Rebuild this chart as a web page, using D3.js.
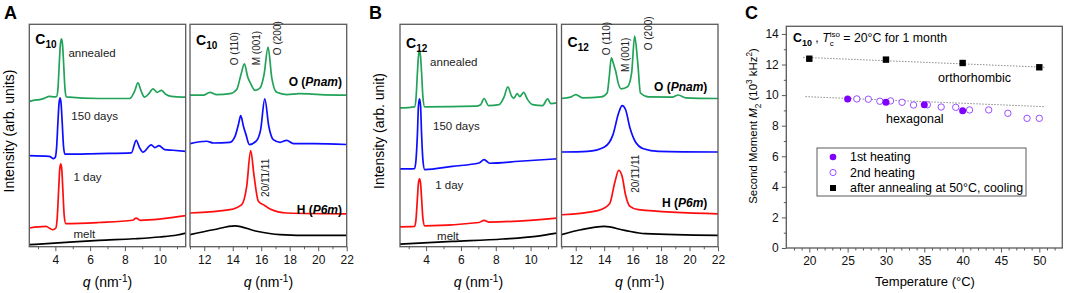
<!DOCTYPE html>
<html>
<script src="https://d3js.org/d3.v7.min.js"></script>

<head>
    <style>
        body {
            margin: 0;
            background: #fff;
            font-family: "Liberation Sans", Arial, Helvetica, sans-serif;
        }

        svg {
            display: block;
        }
    </style>
</head>

<body></body>
<script>
    const width = 1065,
        height = 293;
    const svg = d3.select("body").append("svg").attr("width", width).attr("height", height);

    // SAXS/WAXS patterns: [q (nm^-1), intensity (arb. units, stacked)]
    const c10LowMelt = [[2.5, 0.09], [4.6, 0.2], [6.5, 0.29], [8.5, 0.36], [10, 0.44], [11, 0.53], [11.5, 0.62]];
    const c10LowDay1 = [[2.5, 0.85], [3.45, 0.92], [3.85, 0.77], [4.03, 0.85], [4.11, 1.35], [4.19, 2.6], [4.25, 3.5], [4.31, 3.76], [4.37, 3.5], [4.43, 2.6], [4.51, 1.4], [4.6, 1.05], [6.5, 1.1], [8.45, 1.2], [8.65, 1.3], [8.88, 1.2], [11.5, 1.41]];
    const c10Low150 = [[2.5, 4.14], [3.65, 4.1], [3.9, 4.0], [3.99, 4.05], [4.07, 4.5], [4.15, 5.7], [4.21, 6.5], [4.27, 6.76], [4.33, 6.5], [4.39, 5.7], [4.47, 4.55], [4.55, 4.2], [6.5, 4.23], [8.37, 4.26], [8.65, 4.83], [8.85, 4.49], [9.04, 4.29], [9.52, 4.62], [9.73, 4.5], [9.96, 4.59], [10.29, 4.41], [10.77, 4.38], [11.5, 4.33]];
    const c10LowAnnealed = [[2.5, 6.6], [2.8, 6.66], [3.1, 6.68], [3.4, 6.75], [3.65, 6.83], [3.95, 6.8], [4.07, 6.82], [4.15, 7.2], [4.23, 8.4], [4.29, 9.2], [4.35, 9.44], [4.41, 9.2], [4.47, 8.4], [4.55, 7.2], [4.63, 6.8], [6.5, 6.73], [8.27, 6.73], [8.56, 7.06], [8.75, 7.44], [8.94, 7.06], [9.13, 6.79], [9.38, 6.95], [9.62, 7.17], [9.85, 7.01], [10.1, 7.1], [10.35, 6.92], [10.67, 6.83], [11.5, 6.79]];

    const c10HighMelt = [[11, 0.55], [12.64, 0.77], [14.16, 0.95], [15.68, 0.7], [17.32, 0.55], [19.67, 0.51], [22, 0.51]];
    const c10HighDay1 = [[11, 1.53], [13.8, 1.68], [14.63, 1.91], [14.98, 2.74], [15.26, 4.36], [15.5, 3.2], [15.8, 2.06], [16.27, 1.86], [16.62, 1.71], [17.8, 1.53], [22, 1.49]];
    const c10High150 = [[11, 4.68], [12.17, 4.79], [12.64, 4.71], [13.8, 4.74], [14.16, 5.01], [14.4, 5.55], [14.56, 5.95], [14.75, 5.47], [14.93, 5.09], [15.17, 4.64], [15.64, 4.79], [15.96, 5.32], [16.25, 6.71], [16.53, 5.47], [16.85, 4.86], [17.32, 4.74], [17.79, 4.83], [18.26, 4.68], [19.67, 4.68], [22, 4.64]];
    const c10HighAnnealed = [[11, 6.88], [11.94, 6.88], [12.4, 7.01], [12.87, 6.91], [13.81, 6.95], [14.28, 7.14], [14.58, 7.82], [14.82, 8.3], [15.05, 7.71], [15.26, 7.41], [15.57, 7.1], [15.92, 7.21], [16.2, 7.82], [16.48, 9.06], [16.74, 7.67], [17.09, 7.01], [17.79, 6.91], [18.68, 6.95], [20.13, 6.91], [22, 6.88]];

    const c12LowMelt = [[2.5, 0.12], [5.5, 0.24], [8.4, 0.35], [10.3, 0.47], [11.5, 0.62]];
    const c12LowDay1 = [[2.5, 0.9], [3.34, 0.92], [3.42, 1.25], [3.5, 2.2], [3.56, 2.9], [3.62, 3.08], [3.68, 2.9], [3.74, 2.2], [3.82, 1.25], [3.92, 0.95], [7.04, 1.1], [7.33, 1.2], [7.62, 1.12], [11.5, 1.3]];
    const c12Low150 = [[2.5, 3.53], [3.34, 3.55], [3.42, 3.95], [3.5, 5.1], [3.56, 6.4], [3.62, 6.71], [3.68, 6.4], [3.74, 5.1], [3.82, 3.9], [3.92, 3.5], [5.5, 3.65], [7.04, 3.8], [7.33, 3.95], [7.65, 3.79], [9.35, 3.88], [11.5, 3.99]];
    const c12LowAnnealed = [[2.5, 6.3], [3.34, 6.35], [3.42, 6.75], [3.5, 7.9], [3.56, 8.65], [3.62, 8.91], [3.68, 8.65], [3.74, 7.9], [3.82, 6.75], [3.92, 6.35], [6.85, 6.38], [7.13, 6.45], [7.33, 6.73], [7.58, 6.41], [8.19, 6.45], [8.48, 6.8], [8.69, 7.26], [8.92, 6.82], [9.04, 6.74], [9.23, 6.95], [9.38, 6.82], [9.6, 7.01], [9.83, 6.68], [10.12, 6.45], [10.69, 6.41], [10.98, 6.71], [11.17, 6.5], [11.5, 6.53]];

    const c12HighMelt = [[11, 0.55], [12.36, 0.77], [14.02, 0.92], [15.45, 0.74], [16.88, 0.59], [22, 0.51]];
    const c12HighDay1 = [[11, 1.45], [13.55, 1.64], [14.38, 1.95], [14.74, 2.9], [15.02, 3.47], [15.26, 3.2], [15.5, 2.36], [15.81, 1.83], [16.4, 1.68], [22, 1.49]];
    const c12High150 = [[11, 4.3], [12.83, 4.33], [14.02, 4.53], [14.62, 5.09], [15.02, 6.08], [15.26, 6.41], [15.5, 6.23], [15.81, 5.4], [16.17, 4.79], [16.76, 4.45], [17.83, 4.33], [22, 4.3]];
    const c12HighAnnealed = [[11, 6.73], [11.64, 6.79], [12, 6.91], [12.48, 6.76], [13.79, 6.8], [14.21, 6.98], [14.36, 7.74], [14.5, 8.58], [14.67, 8.27], [14.81, 7.97], [14.98, 7.44], [15.21, 7.17], [15.64, 7.26], [15.93, 7.89], [16.14, 9.56], [16.36, 8.35], [16.55, 6.98], [17.12, 6.8], [18.79, 6.79], [19.21, 6.89], [19.74, 6.76], [22, 6.73]];

    // NMR second moment, panel C
    const tempAnnealed = [20, 30, 40, 50];
    const m2Annealed = [12.38, 12.32, 12.1, 11.82];
    const tempFirst = [25, 30, 35, 40];
    const m2First = [9.75, 9.53, 9.37, 8.98];
    const tempSecond = [26.2, 27.7, 29.2, 30.6, 32.1, 33.6, 35.4, 37.2, 39.1, 40.9, 43.4, 45.9, 48.4, 50];
    const m2Second = [9.75, 9.73, 9.6, 9.62, 9.53, 9.35, 9.37, 9.22, 9.2, 9.03, 9.03, 8.81, 8.48, 8.48];
    const fitOrtho = [[19.2, 12.47], [50.8, 11.82]];
    const fitHex = [[19.5, 9.9], [50.8, 9.24]];

    const sampleColor = {
        melt: "#000000",
        day1: "#ff0d0d",
        days150: "#0d0dff",
        annealed: "#22a35a"
    };
    const purple = "#7f00ff";
    const frameColor = "#5a5a5a";
    const plotTop = 24.3, plotBottom = 246.7;

    function richText(sel, parts) {
        let shift = 0;
        parts.forEach(p => {
            const s = sel.append("tspan").text(p.t);
            const want = p.sub ? 3.5 : p.sup ? -5 : 0;
            if (want !== shift) {
                s.attr("dy", want - shift);
                shift = want;
            }
            if (p.sub || p.sup) s.attr("font-size", p.size || "0.72em");
            if (p.i) s.attr("font-style", "italic");
            if (p.b) s.attr("font-weight", "bold");
            if (p.dx) s.attr("dx", p.dx);
        });
        return sel;
    }

    function qTitle(x) {
        const t = svg.append("text")
            .attr("x", x).attr("y", 287)
            .attr("text-anchor", "middle")
            .attr("font-size", 14);
        richText(t, [{ t: "q", i: true }, { t: " (nm" }, { t: "-1", sup: true }, { t: ")" }]);
    }

    function drawSpectrum(p) {
        const x = d3.scaleLinear().domain(p.domain).range([p.x0, p.x1]);
        const y = d3.scaleLinear().domain([0, 10.1]).range([plotBottom, plotTop]);
        const g = svg.append("g");

        g.append("clipPath").attr("id", "clip" + p.id)
            .append("rect")
            .attr("x", p.x0).attr("y", plotTop)
            .attr("width", p.x1 - p.x0).attr("height", plotBottom - plotTop);

        const line = d3.line()
            .x(d => x(d[0]))
            .y(d => y(d[1]))
            .curve(d3.curveMonotoneX);

        g.selectAll("path.curve")
            .data(p.curves)
            .enter()
            .append("path")
            .attr("class", "curve")
            .attr("d", d => line(d.data))
            .attr("fill", "none")
            .attr("stroke", d => d.color)
            .attr("stroke-width", 1.7)
            .attr("stroke-linejoin", "round")
            .attr("clip-path", `url(#clip${p.id})`);

        // minor + major ticks
        const major = d3.range(Math.ceil(p.domain[0] / 2) * 2, p.domain[1] + 0.01, 2);
        const minor = d3.range(Math.ceil(p.domain[0]), p.domain[1] + 0.01, 1).filter(v => v % 2 !== 0);
        const minorAxis = g.append("g")
            .attr("transform", `translate(0,${plotBottom})`)
            .call(d3.axisBottom(x).tickValues(minor).tickSize(2.5).tickFormat(""));
        const majorAxis = g.append("g")
            .attr("transform", `translate(0,${plotBottom})`)
            .call(d3.axisBottom(x).tickValues(major).tickSize(4.5).tickPadding(4).tickFormat(d3.format("d")));
        [minorAxis, majorAxis].forEach(a => {
            a.select(".domain").remove();
            a.selectAll("line").attr("stroke", frameColor);
            a.selectAll("text").attr("font-size", 12).attr("fill", "#111")
                .attr("font-family", "Liberation Sans, Arial, sans-serif");
        });

        g.append("rect")
            .attr("x", p.x0).attr("y", plotTop)
            .attr("width", p.x1 - p.x0).attr("height", plotBottom - plotTop)
            .attr("fill", "none")
            .attr("stroke", frameColor)
            .attr("stroke-width", 1.3);

        // compound label
        const lab = g.append("text")
            .attr("x", p.x0 + 6).attr("y", p.labelY)
            .attr("font-size", 14).attr("font-weight", "bold");
        richText(lab, [{ t: "C" }, { t: p.compound, sub: true, size: 10 }]);

        (p.sampleLabels || []).forEach(s => {
            g.append("text")
                .attr("x", x(s.q)).attr("y", y(s.v))
                .attr("font-size", 11.5)
                .attr("fill", "#222")
                .text(s.t);
        });

        (p.peakLabels || []).forEach(s => {
            g.append("text")
                .attr("transform", `translate(${x(s.q)},${y(s.v)}) rotate(-90)`)
                .attr("font-size", 10)
                .attr("fill", "#222")
                .text(s.t);
        });

        (p.phaseLabels || []).forEach(s => {
            const t = g.append("text")
                .attr("x", x(s.q)).attr("y", y(s.v))
                .attr("text-anchor", "end")
                .attr("font-size", 12).attr("font-weight", "bold");
            richText(t, [{ t: s.a + " (" }, { t: s.b, i: true }, { t: ")" }]);
        });

        qTitle((p.x0 + p.x1) / 2);
    }

    const sampleRows = (melt, day1, d150, ann) => [
        { color: sampleColor.melt, data: melt },
        { color: sampleColor.day1, data: day1 },
        { color: sampleColor.days150, data: d150 },
        { color: sampleColor.annealed, data: ann }
    ];

    const hkl = "20/1\u03041/11";

    drawSpectrum({
        id: "a1", x0: 29.3, x1: 185.7, domain: [2.5, 11.5], compound: "10", labelY: 44,
        curves: sampleRows(c10LowMelt, c10LowDay1, c10Low150, c10LowAnnealed),
        sampleLabels: [
            { t: "annealed", q: 4.75, v: 8.6 },
            { t: "150 days", q: 4.92, v: 5.75 },
            { t: "1 day", q: 5.04, v: 2.99 },
            { t: "melt", q: 5.04, v: 0.41 }
        ]
    });
    drawSpectrum({
        id: "a2", x0: 190, x1: 346.7, domain: [11, 22], compound: "10", labelY: 45,
        curves: sampleRows(c10HighMelt, c10HighDay1, c10High150, c10HighAnnealed),
        peakLabels: [
            { t: "O (110)", q: 14.4, v: 8.24 },
            { t: "M (001)", q: 15.88, v: 8.24 },
            { t: "O (200)", q: 17.42, v: 8.7 },
            { t: hkl, q: 16.58, v: 2.26 }
        ],
        phaseLabels: [
            { a: "O", b: "Pnam", q: 21.67, v: 7.29 },
            { a: "H", b: "P6m", q: 21.67, v: 1.49 }
        ]
    });
    drawSpectrum({
        id: "b1", x0: 400, x1: 556.7, domain: [2.5, 11.5], compound: "12", labelY: 48,
        curves: sampleRows(c12LowMelt, c12LowDay1, c12Low150, c12LowAnnealed),
        sampleLabels: [
            { t: "annealed", q: 4.23, v: 8.2 },
            { t: "150 days", q: 4.4, v: 5.3 },
            { t: "1 day", q: 4.52, v: 2.63 },
            { t: "melt", q: 4.63, v: 0.32 }
        ]
    });
    drawSpectrum({
        id: "b2", x0: 561.5, x1: 718, domain: [11, 22], compound: "12", labelY: 47,
        curves: sampleRows(c12HighMelt, c12HighDay1, c12High150, c12HighAnnealed),
        peakLabels: [
            { t: "O (110)", q: 14.44, v: 8.7 },
            { t: "M (001)", q: 15.75, v: 7.93 },
            { t: "O (200)", q: 17.38, v: 8.92 },
            { t: hkl, q: 16.46, v: 2.45 }
        ],
        phaseLabels: [
            { a: "O", b: "Pnam", q: 21.25, v: 7.07 },
            { a: "H", b: "P6m", q: 21.25, v: 1.81 }
        ]
    });

    // y titles of A and B
    [{ x: 14, t: "Intensity (arb. units)" }, { x: 384, t: "Intensity (arb. unit)" }].forEach(d => {
        svg.append("text")
            .attr("transform", `translate(${d.x},131) rotate(-90)`)
            .attr("text-anchor", "middle")
            .attr("font-size", 14)
            .text(d.t);
    });

    // panel letters
    [{ x: 4, t: "A" }, { x: 369, t: "B" }, { x: 745, t: "C" }].forEach(d => {
        svg.append("text")
            .attr("x", d.x).attr("y", 19)
            .attr("font-size", 18).attr("font-weight", "bold")
            .text(d.t);
    });

    // ---- panel C ----
    const xC = d3.scaleLinear().domain([17, 53]).range([786.3, 1062.3]);
    const yC = d3.scaleLinear().domain([0, 14.5]).range([248, 26.3]);
    const gC = svg.append("g");

    const xMinorC = d3.range(18, 53, 1).filter(v => v % 5 !== 0);
    const yMinorC = d3.range(1, 14.5, 2);
    const axes = [
        gC.append("g").attr("transform", "translate(0,248)")
            .call(d3.axisBottom(xC).tickValues(xMinorC).tickSize(2.5).tickFormat("")),
        gC.append("g").attr("transform", "translate(0,248)")
            .call(d3.axisBottom(xC).tickValues(d3.range(20, 51, 5)).tickSize(4.5).tickPadding(4)),
        gC.append("g").attr("transform", "translate(786.3,0)")
            .call(d3.axisLeft(yC).tickValues(yMinorC).tickSize(2.5).tickFormat("")),
        gC.append("g").attr("transform", "translate(786.3,0)")
            .call(d3.axisLeft(yC).tickValues(d3.range(0, 15, 2)).tickSize(4.5).tickPadding(3))
    ];
    axes.forEach(a => {
        a.select(".domain").remove();
        a.selectAll("line").attr("stroke", frameColor);
        a.selectAll("text").attr("font-size", 12).attr("fill", "#111")
            .attr("font-family", "Liberation Sans, Arial, sans-serif");
    });

    gC.append("rect")
        .attr("x", xC(17)).attr("y", yC(14.5))
        .attr("width", xC(53) - xC(17)).attr("height", yC(0) - yC(14.5))
        .attr("fill", "none").attr("stroke", frameColor).attr("stroke-width", 1.3);

    const fitLine = d3.line().x(d => xC(d[0])).y(d => yC(d[1]));
    [fitOrtho, fitHex].forEach(f => {
        gC.append("path")
            .attr("d", fitLine(f))
            .attr("stroke", "#8a8a8a")
            .attr("stroke-width", 1)
            .attr("stroke-dasharray", "1.5,1.5")
            .attr("fill", "none");
    });

    gC.selectAll("circle.second")
        .data(tempSecond.map((t, i) => [t, m2Second[i]]))
        .enter().append("circle")
        .attr("class", "second")
        .attr("cx", d => xC(d[0])).attr("cy", d => yC(d[1]))
        .attr("r", 3.2)
        .attr("fill", "#fff").attr("stroke", "#9a4dff").attr("stroke-width", 1);

    gC.selectAll("circle.first")
        .data(tempFirst.map((t, i) => [t, m2First[i]]))
        .enter().append("circle")
        .attr("class", "first")
        .attr("cx", d => xC(d[0])).attr("cy", d => yC(d[1]))
        .attr("r", 3.5)
        .attr("fill", purple);

    gC.selectAll("rect.ann")
        .data(tempAnnealed.map((t, i) => [t, m2Annealed[i]]))
        .enter().append("rect")
        .attr("class", "ann")
        .attr("x", d => xC(d[0]) - 3.2).attr("y", d => yC(d[1]) - 3.2)
        .attr("width", 6.4).attr("height", 6.4)
        .attr("fill", "#000");

    gC.append("text").attr("x", xC(36.8)).attr("y", yC(10.86))
        .attr("font-size", 12.5).text("orthorhombic");
    gC.append("text").attr("x", xC(30)).attr("y", yC(8.18))
        .attr("font-size", 12.5).text("hexagonal");

    const condition = gC.append("text").attr("x", 793).attr("y", 42).attr("font-size", 12.3);
    richText(condition, [
        { t: "C", b: true }, { t: "10", sub: true, b: true, size: 9 },
        { t: " , " }, { t: "T", i: true }, { t: "c", sub: true, size: 8 },
        { t: "iso", sup: true, size: 8, dx: -4 }, { t: " = 20°C for 1 month" }
    ]);

    // legend
    const legend = gC.append("g");
    legend.append("rect")
        .attr("x", 817).attr("y", 148).attr("width", 209).attr("height", 48)
        .attr("fill", "#fff").attr("stroke", frameColor).attr("stroke-width", 1);
    const legendItems = ["1st heating", "2nd heating", "after annealing at 50°C, cooling"];
    legendItems.forEach((t, i) => {
        const cy = 157 + i * 15.5;
        if (i === 0) legend.append("circle").attr("cx", 833).attr("cy", cy).attr("r", 3.3).attr("fill", purple);
        if (i === 1) legend.append("circle").attr("cx", 833).attr("cy", cy).attr("r", 3.1)
            .attr("fill", "#fff").attr("stroke", "#9a4dff").attr("stroke-width", 1);
        if (i === 2) legend.append("rect").attr("x", 830).attr("y", cy - 3).attr("width", 6).attr("height", 6).attr("fill", "#000");
        legend.append("text").attr("x", 850).attr("y", cy + 4.2).attr("font-size", 12.4).text(t);
    });

    const yTitleC = svg.append("text")
        .attr("transform", "translate(757,126) rotate(-90)")
        .attr("text-anchor", "middle")
        .attr("font-size", 11.4);
    richText(yTitleC, [
        { t: "Second Moment " }, { t: "M", i: true }, { t: "2", sub: true },
        { t: " (10" }, { t: "3", sup: true }, { t: " kHz" }, { t: "2", sup: true }, { t: ")" }
    ]);

    svg.append("text")
        .attr("x", 925).attr("y", 286)
        .attr("text-anchor", "middle")
        .attr("font-size", 13)
        .text("Temperature (°C)");
</script>

</html>
